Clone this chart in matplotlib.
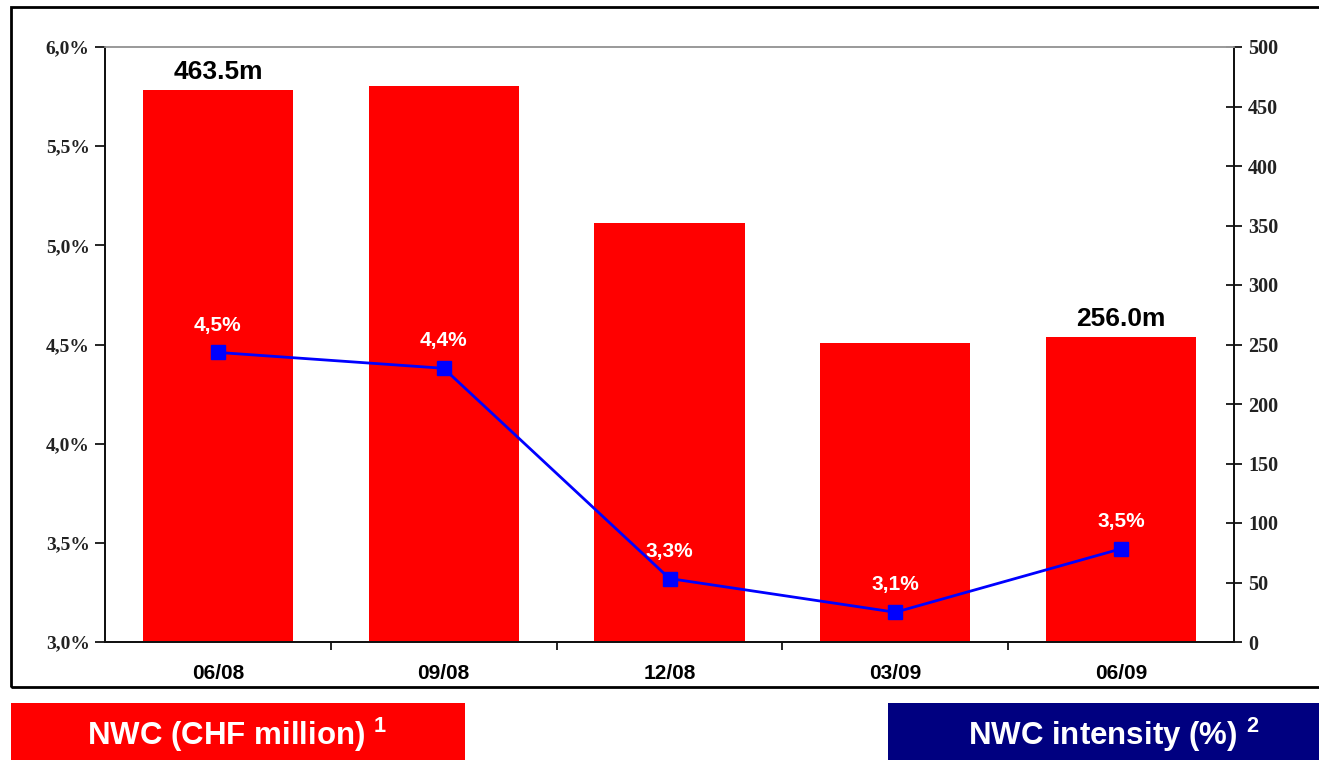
import matplotlib
matplotlib.use("Agg")
import matplotlib.pyplot as plt
from matplotlib.patches import Rectangle
import numpy as np

categories = ["06/08", "09/08", "12/08", "03/09", "06/09"]
nwc_chf_m = [463.5, 467.5, 352.0, 251.5, 256.0]
nwc_intensity = [4.46, 4.38, 3.32, 3.15, 3.47]
intensity_labels = ["4,5%", "4,4%", "3,3%", "3,1%", "3,5%"]
bar_value_labels = {0: "463.5m", 4: "256.0m"}
left_ticks = [3.0, 3.5, 4.0, 4.5, 5.0, 5.5, 6.0]
left_tick_labels = ["3,0%", "3,5%", "4,0%", "4,5%", "5,0%", "5,5%", "6,0%"]
right_ticks = list(range(0, 501, 50))

SANS = "Liberation Sans"
SERIF = "Liberation Serif"
plt.rcParams["mathtext.fontset"] = "custom"
plt.rcParams["mathtext.bf"] = "Liberation Sans:bold"
plt.rcParams["mathtext.rm"] = "Liberation Sans:bold"

W, H = 1319, 761
fig = plt.figure(figsize=(W / 100, H / 100), dpi=100)
fig.patch.set_facecolor("white")

L, R, T, B = 105, 1234, 47, 642
ax = fig.add_axes([L / W, (H - B) / H, (R - L) / W, (B - T) / H])
ax2 = ax.twinx()

x = np.arange(len(categories))

ax2.bar(x, nwc_chf_m, width=0.665, color="#FF0000", zorder=1)
ax2.set_ylim(0, 500)
ax2.set_yticks(right_ticks)
ax2.set_yticklabels([str(v) for v in right_ticks], fontfamily=SERIF,
                    fontweight="bold", fontsize=14.5, color="#222222")
ax2.tick_params(axis="y", direction="inout", length=12, width=1.2, pad=4)
for i, lab in bar_value_labels.items():
    ax2.text(x[i], nwc_chf_m[i] + 5, lab, ha="center", va="bottom",
             fontfamily=SANS, fontweight="bold", fontsize=19, color="black")

ax.set_zorder(ax2.get_zorder() + 1)
ax.patch.set_visible(False)
ax.plot(x, nwc_intensity, color="#0000FF", lw=2, marker="s",
        markersize=10, markerfacecolor="#0000FF", markeredgecolor="#0000FF")
for xi, yi, lab in zip(x, nwc_intensity, intensity_labels):
    ax.text(xi, yi + 0.09, lab, ha="center", va="bottom", fontfamily=SANS,
            fontweight="bold", fontsize=15, color="white")

ax.set_ylim(3.0, 6.0)
ax.set_xlim(-0.5, len(categories) - 0.5)
ax.set_yticks(left_ticks)
ax.set_yticklabels(left_tick_labels, fontfamily=SERIF, fontweight="bold",
                   fontsize=14, color="#222222")
ax.tick_params(axis="y", direction="out", length=7, width=1.2, pad=4)

ax.set_xticks(x)
ax.set_xticklabels(categories, fontfamily=SANS, fontweight="bold",
                   fontsize=15)
ax.tick_params(axis="x", which="major", length=0, pad=16)
ax.set_xticks(np.arange(len(categories) + 1)[1:-1] - 0.5, minor=True)
ax.tick_params(axis="x", which="minor", direction="out", length=6, width=1.2)

for a in (ax, ax2):
    a.spines["top"].set_color("#999999")
    a.spines["top"].set_linewidth(1.2)
    for s in ("left", "right", "bottom"):
        a.spines[s].set_color("#111111")
        a.spines[s].set_linewidth(1.3)

fig.patches.append(Rectangle((11 / W, (H - 687) / H), 1.05, (687 - 7) / H,
                             transform=fig.transFigure, fill=False,
                             edgecolor="black", linewidth=2, zorder=0))

fig.patches.append(Rectangle((11 / W, 1 / H), 454 / W, 57 / H,
                             transform=fig.transFigure, facecolor="#FF0000",
                             edgecolor="none"))
fig.patches.append(Rectangle((888 / W, 1 / H), 440 / W, 57 / H,
                             transform=fig.transFigure, facecolor="#000080",
                             edgecolor="none"))
fig.text(237 / W, (H - 735) / H, r"NWC (CHF million) $^{1}$", ha="center",
         va="center", fontfamily=SANS, fontweight="bold", fontsize=22.5,
         color="white")
fig.text(1114 / W, (H - 735) / H, r"NWC intensity (%) $^{2}$", ha="center",
         va="center", fontfamily=SANS, fontweight="bold", fontsize=22.5,
         color="white")

fig.savefig("out.png", dpi=100)
